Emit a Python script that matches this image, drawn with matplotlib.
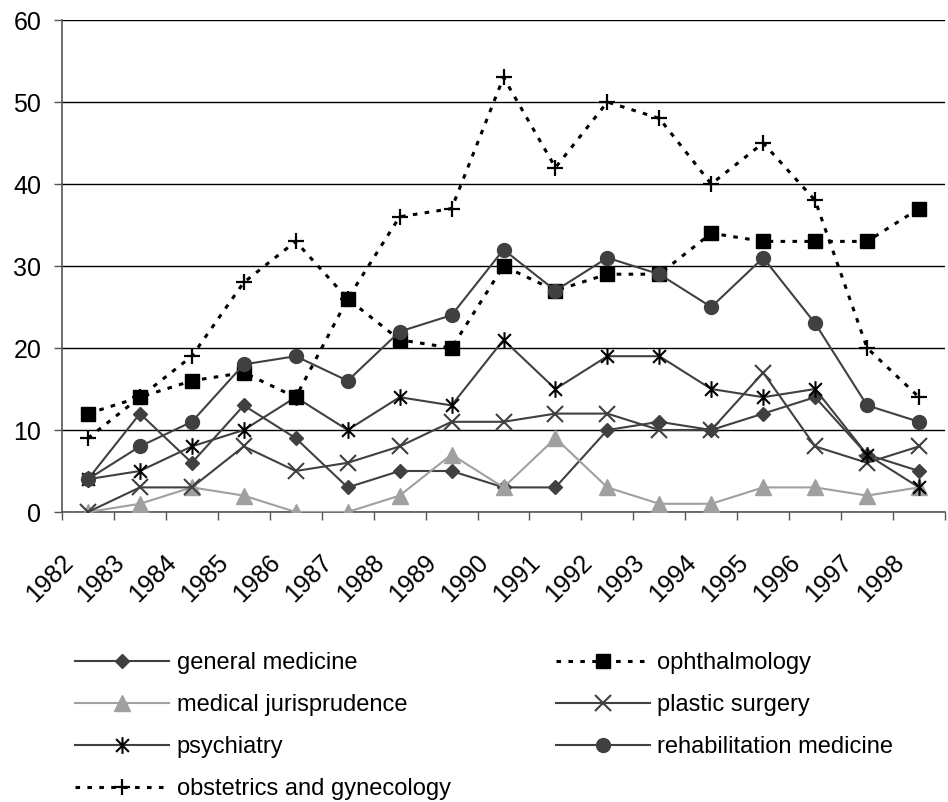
import numpy as np
import matplotlib
matplotlib.use('Agg')
import matplotlib.pyplot as plt
from matplotlib.path import Path
from matplotlib.transforms import ScaledTranslation

plt.rcParams['font.family'] = ['Liberation Sans', 'DejaVu Sans']

years = [str(y) for y in range(1982, 1999)]

general_medicine = [4, 12, 6, 13, 9, 3, 5, 5, 3, 3, 10, 11, 10, 12, 14, 7, 5]
medical_jurisprudence = [0, 1, 3, 2, 0, 0, 2, 7, 3, 9, 3, 1, 1, 3, 3, 2, 3]
plastic_surgery = [0, 3, 3, 8, 5, 6, 8, 11, 11, 12, 12, 10, 10, 17, 8, 6, 8]
psychiatry = [4, 5, 8, 10, 14, 10, 14, 13, 21, 15, 19, 19, 15, 14, 15, 7, 3]
rehabilitation = [4, 8, 11, 18, 19, 16, 22, 24, 32, 27, 31, 29, 25, 31, 23, 13, 11]
ophthalmology = [12, 14, 16, 17, 14, 26, 21, 20, 30, 27, 29, 29, 34, 33, 33, 33, 37]
obstetrics = [9, 14, 19, 28, 33, 26, 36, 37, 53, 42, 50, 48, 40, 45, 38, 20, 14]

dark = '#404040'
light = '#a0a0a0'
dots = (0, (1.5, 2.4))

# excel style star: X with a vertical bar
star = Path([(-1, -1), (1, 1), (-1, 1), (1, -1), (0, -1.3), (0, 1.3)],
            [Path.MOVETO, Path.LINETO] * 3)

fig = plt.figure(figsize=(9.48, 8.02), dpi=100)
ax = fig.add_axes([62 / 948, 1 - 512 / 802, 883 / 948, 492 / 802])
x = np.arange(len(years))

h_gm, = ax.plot(x, general_medicine, color=dark, lw=1.5, marker='D', ms=7,
                mfc=dark, mec=dark, label='general medicine', zorder=3)
h_mj, = ax.plot(x, medical_jurisprudence, color=light, lw=1.5, marker='^', ms=11,
                mfc=light, mec=light, label='medical jurisprudence', zorder=3)
h_ps, = ax.plot(x, plastic_surgery, color=dark, lw=1.5, marker='x', ms=11, mew=1.5,
                mec=dark, label='plastic surgery', zorder=3)
h_psy, = ax.plot(x, psychiatry, color=dark, lw=1.5, marker=star, ms=12, mew=1.5,
                 mec='black', label='psychiatry', zorder=3)
h_obs, = ax.plot(x, obstetrics, color='black', lw=2.2, ls=dots, marker='+', ms=12,
                 mew=1.6, mec='black', label='obstetrics and gynecology', zorder=4)
h_oph, = ax.plot(x, ophthalmology, color='black', lw=2.2, ls=dots, marker='s', ms=10,
                 mfc='black', mec='black', label='ophthalmology', zorder=5)
h_reh, = ax.plot(x, rehabilitation, color=dark, lw=1.5, marker='o', ms=10,
                 mfc=dark, mec=dark, label='rehabilitation medicine', zorder=6)

ax.set_xlim(-0.5, len(years) - 0.5)
ax.set_ylim(0, 60)
ax.set_yticks(range(0, 61, 10))
ax.yaxis.grid(True, color='black', lw=1)
ax.set_axisbelow(True)
for s in ['top', 'right']:
    ax.spines[s].set_visible(False)
ax.spines['left'].set_color('#555555')
ax.spines['bottom'].set_color('#555555')
ax.spines['left'].set_linewidth(1.2)
ax.spines['bottom'].set_linewidth(1.2)

ax.tick_params(axis='y', direction='out', length=6, width=1, color='#555555',
               labelsize=18, pad=9)
ax.set_xticks(x)
ax.set_xticks(np.arange(-0.5, len(years)), minor=True)
ax.tick_params(axis='x', which='major', length=0, pad=37, labelsize=18)
ax.tick_params(axis='x', which='minor', direction='out', length=6, width=1, color='#555555')
ax.set_xticklabels(years, rotation=45, ha='right', va='baseline', rotation_mode='anchor')
off = ScaledTranslation(-0.14, 0, fig.dpi_scale_trans)
for lab in ax.get_xticklabels():
    lab.set_transform(lab.get_transform() + off)

handles = [h_gm, h_mj, h_psy, h_obs, h_oph, h_ps, h_reh]
fig.legend(handles=handles, labels=[h.get_label() for h in handles], ncol=2,
           loc='upper left', bbox_to_anchor=(75 / 948, 1 - 652 / 802),
           frameon=False, fontsize=17, handlelength=4.0, handletextpad=0.3,
           labelspacing=0.85, columnspacing=4.45, borderpad=0, borderaxespad=0)

fig.savefig('out.png', dpi=100)
